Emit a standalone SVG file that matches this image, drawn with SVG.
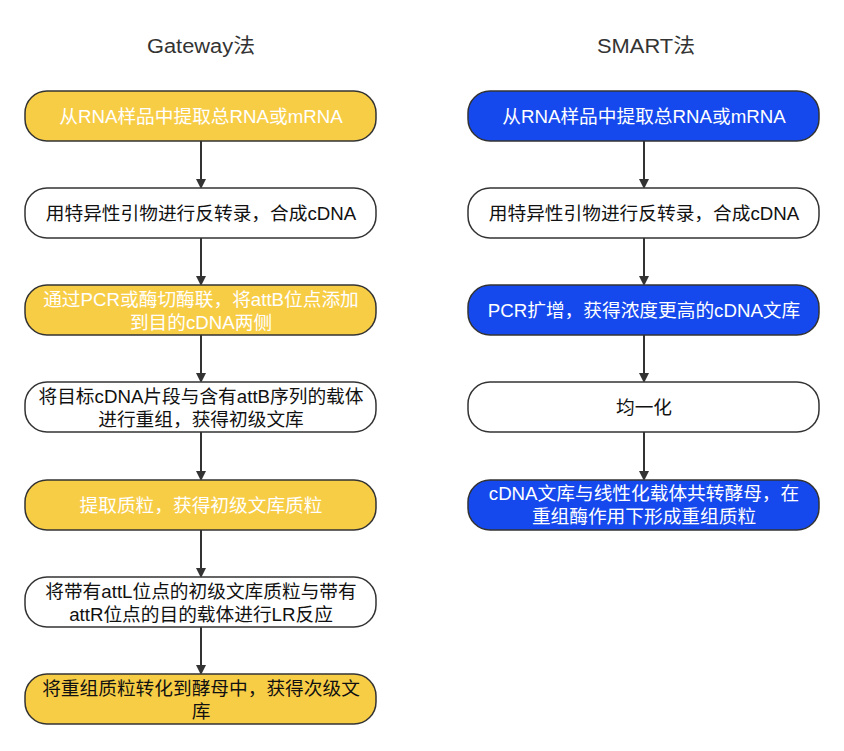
<svg xmlns="http://www.w3.org/2000/svg" width="844" height="751" viewBox="0 0 844 751">
<style>
.n{stroke:#333;stroke-width:1.5}
.y{fill:#F8CD46}
.b{fill:#1549EE}
.w{fill:#fff}
text{font-family:"Liberation Sans","Noto Sans CJK SC",sans-serif;font-size:18.7px;text-anchor:middle;dominant-baseline:central}
.tw{fill:#fff}
.tk{fill:#111}
.title{font-size:20px;fill:#333}
.c{stroke:#333;stroke-width:2;fill:none;marker-end:url(#ah)}
</style>
<defs>
<marker id="ah" markerWidth="10" markerHeight="10" refX="8" refY="5" orient="auto" markerUnits="userSpaceOnUse" viewBox="0 0 10 10">
<path d="M0,0 L10,5 L0,10 Z" fill="#333"/>
</marker>
</defs>
<rect width="844" height="751" fill="#fff"/>
<text class="title" x="201" y="46" textLength="108" lengthAdjust="spacingAndGlyphs">Gateway法</text>
<text class="title" x="646" y="46" textLength="98" lengthAdjust="spacingAndGlyphs">SMART法</text>
<g id="connectors">
<line class="c" x1="201" y1="141" x2="201" y2="187"/>
<line class="c" x1="201" y1="238" x2="201" y2="284"/>
<line class="c" x1="201" y1="335" x2="201" y2="381"/>
<line class="c" x1="201" y1="432" x2="201" y2="479"/>
<line class="c" x1="201" y1="530" x2="201" y2="576"/>
<line class="c" x1="201" y1="627" x2="201" y2="673"/>
<line class="c" x1="644" y1="141" x2="644" y2="187"/>
<line class="c" x1="644" y1="238" x2="644" y2="284"/>
<line class="c" x1="644" y1="335" x2="644" y2="381"/>
<line class="c" x1="644" y1="432" x2="644" y2="479"/>
</g>
<g id="g1"><rect class="n y" x="25" y="91" width="351" height="50" rx="22"/><text class="tw" x="201" y="116">从RNA样品中提取总RNA或mRNA</text></g>
<g id="g2"><rect class="n w" x="25" y="188" width="351" height="50" rx="22"/><text class="tk" x="201" y="213">用特异性引物进行反转录，合成cDNA</text></g>
<g id="g3"><rect class="n y" x="25" y="285" width="351" height="50" rx="22"/><text class="tw" x="201" y="299">通过PCR或酶切酶联，将attB位点添加</text><text class="tw" x="201" y="322">到目的cDNA两侧</text></g>
<g id="g4"><rect class="n w" x="25" y="382" width="351" height="50" rx="22"/><text class="tk" x="201" y="396">将目标cDNA片段与含有attB序列的载体</text><text class="tk" x="201" y="419">进行重组，获得初级文库</text></g>
<g id="g5"><rect class="n y" x="25" y="480" width="351" height="50" rx="22"/><text class="tw" x="201" y="505">提取质粒，获得初级文库质粒</text></g>
<g id="g6"><rect class="n w" x="25" y="577" width="351" height="50" rx="22"/><text class="tk" x="201" y="591">将带有attL位点的初级文库质粒与带有</text><text class="tk" x="201" y="614">attR位点的目的载体进行LR反应</text></g>
<g id="g7"><rect class="n y" x="25" y="674" width="351" height="50" rx="22"/><text class="tk" x="201" y="688">将重组质粒转化到酵母中，获得次级文</text><text class="tk" x="201" y="711">库</text></g>
<g id="s1"><rect class="n b" x="468" y="91" width="351" height="50" rx="22"/><text class="tw" x="644" y="116">从RNA样品中提取总RNA或mRNA</text></g>
<g id="s2"><rect class="n w" x="468" y="188" width="351" height="50" rx="22"/><text class="tk" x="644" y="213">用特异性引物进行反转录，合成cDNA</text></g>
<g id="s3"><rect class="n b" x="468" y="285" width="351" height="50" rx="22"/><text class="tw" x="644" y="310">PCR扩增，获得浓度更高的cDNA文库</text></g>
<g id="s4"><rect class="n w" x="468" y="382" width="351" height="50" rx="22"/><text class="tk" x="644" y="407">均一化</text></g>
<g id="s5"><rect class="n b" x="468" y="480" width="351" height="50" rx="22"/><text class="tw" x="644" y="493">cDNA文库与线性化载体共转酵母，在</text><text class="tw" x="644" y="516">重组酶作用下形成重组质粒</text></g>
</svg>
